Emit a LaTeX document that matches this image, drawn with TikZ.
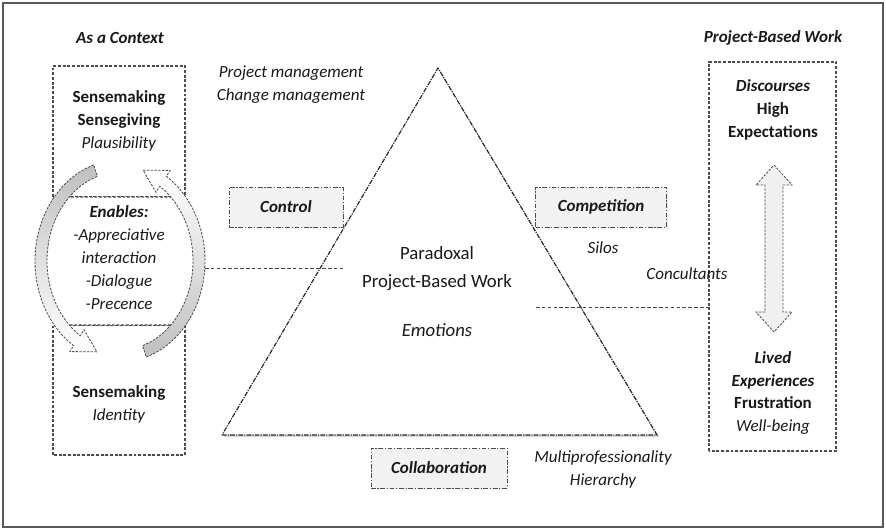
\documentclass[tikz,border=0pt]{standalone}
\usepackage{fontspec}
\setmainfont{Carlito}
\usepackage{tikz}
\usetikzlibrary{calc, shadows}
\pgfdeclarelayer{background}
\pgfsetlayers{background,main}

\newcommand{\dgfont}{\fontsize{14.5}{19.6}\selectfont}
\newcommand{\trfont}{\fontsize{16}{19}\selectfont}

\begin{document}
\begin{tikzpicture}[x=0.03cm, y=0.03cm]

    \useasboundingbox (0,0) rectangle (886,530);

    % Frames and boxes
    \tikzset{frS/.style={draw=black!65, line width=1.1pt}}
    \tikzset{colS/.style={draw=black!70, line width=0.9pt, dash pattern=on 2.5pt off 1.5pt, fill=white,
        drop shadow={opacity=0.15, shadow xshift=1.2pt, shadow yshift=-1.2pt}}}
    \tikzset{lblS/.style={draw=black!70, fill=black!5, line width=0.8pt,
        dash pattern=on 4pt off 1.5pt on 1pt off 1.5pt, minimum width=3.42cm, minimum height=1.2cm,
        font=\dgfont\bfseries\itshape, text=black!90,
        drop shadow={opacity=0.15, shadow xshift=1.2pt, shadow yshift=-1.2pt}}}
    \tikzset{triS/.style={draw=black!85, line width=1pt, fill=white,
        dash pattern=on 4pt off 1pt on 1pt off 1pt,
        drop shadow={opacity=0.3, shadow xshift=1.8pt, shadow yshift=-1.8pt}}}

    % Texts
    \tikzset{tS/.style={align=center, text=black!90, font=\dgfont, inner sep=0pt}}
    \tikzset{tbS/.style={tS, font=\dgfont\bfseries}}
    \tikzset{tiS/.style={tS, font=\dgfont\itshape}}
    \tikzset{tbiS/.style={tS, font=\dgfont\bfseries\itshape}}
    \tikzset{trS/.style={tS, font=\trfont}}

    % Arrows and links
    \tikzset{arS/.style={draw=black!70, line width=0.7pt, dash pattern=on 2pt off 1.2pt}}
    \tikzset{lkS/.style={draw=black!75, line width=0.8pt, dash pattern=on 3pt off 2pt}}

    % Background image
    \begin{pgfonlayer}{background}
        \path[frS] (3,3) rectangle (883,527);
        \path[triS] (222,95) -- (657,95) -- (438,462) -- cycle;
    \end{pgfonlayer}

    % Left column
    \path[colS] (53,333) rectangle (185,464);
    \path[colS] (53,75) rectangle (185,205);
    \begin{scope}[shift={(120,269)}]
        \path[colS] (41.8:80 and 96) arc[start angle=41.8, end angle=-41.8, x radius=80, y radius=96]
            -- (221.8:80 and 96) arc[start angle=221.8, end angle=138.2, x radius=80, y radius=96] -- cycle;
        \path[arS, top color=black!25, middle color=white, bottom color=white]
            (108:85 and 101) arc[start angle=108, end angle=237, x radius=85, y radius=101]
            -- (237:92 and 108) -- (253:79 and 95) -- (237:66 and 82) -- (237:73 and 89)
            arc[start angle=237, end angle=108, x radius=73, y radius=89] -- cycle;
        \path[arS, bottom color=black!25, middle color=white, top color=white]
            (288:85 and 101) arc[start angle=288, end angle=417, x radius=85, y radius=101]
            -- (417:92 and 108) -- (433:79 and 95) -- (417:66 and 82) -- (417:73 and 89)
            arc[start angle=417, end angle=288, x radius=73, y radius=89] -- cycle;
    \end{scope}

    \node (ctxT) [tbiS] at (120,492) {As a Context};
    \node (smTop) [tS] at (119,409) {\textbf{Sensemaking}\\\textbf{Sensegiving}\\\textit{Plausibility}};
    \node (enT) [tiS] at (119,272) {\textbf{Enables:}\\-Appreciative\\interaction\\-Dialogue\\-Precence};
    \node (smBot) [tS] at (119,126) {\textbf{Sensemaking}\\\textit{Identity}};

    % Right column
    \path[colS] (709,79) rectangle (836,468);
    \path[arS, fill=black!6] (774,365) -- (792,345) -- (783,345) -- (783,218) -- (792,218)
        -- (774,198) -- (756,218) -- (765,218) -- (765,345) -- (756,345) -- cycle;

    \node (pbwT) [tbiS] at (773,492) {Project-Based Work};
    \node (dcT) [tS] at (773,420) {\textbf{\textit{Discourses}}\\\textbf{High}\\\textbf{Expectations}};
    \node (lvT) [tS] at (773,137) {\textbf{\textit{Lived}}\\\textbf{\textit{Experiences}}\\\textbf{Frustration}\\\textit{Well-being}};

    % Triangle
    \node (parT) [trS] at (437,277) {Paradoxal};
    \node (pbT) [trS] at (437,247) {Project-Based Work};
    \node (emoT) [trS, font=\trfont\itshape] at (437,200) {Emotions};
    \node (mgmT) [tiS] at (291,445) {Project management\\Change management};

    % Labelled boxes
    \node (ctlB) [lblS] at (286,323) {Control};
    \node (cmpB) [lblS, minimum width=3.93cm] at (601,323) {Competition};
    \node (colB) [lblS, minimum width=4.08cm] at (439,62) {Collaboration};

    \node (silT) [tiS] at (603,282) {Silos};
    \node (conT) [tiS] at (687,256) {Concultants};
    \node (mulT) [tiS] at (603,61) {Multiprofessionality\\Hierarchy};

    % Links
    \coordinate (enR) at (205,262);
    \coordinate (triL) at (343,262);
    \coordinate (triR) at (536,223);
    \coordinate (dcL) at (709,223);
    \path[lkS] (enR) -- (triL);
    \path[lkS] (triR) -- (dcL);

\end{tikzpicture}
\end{document}
